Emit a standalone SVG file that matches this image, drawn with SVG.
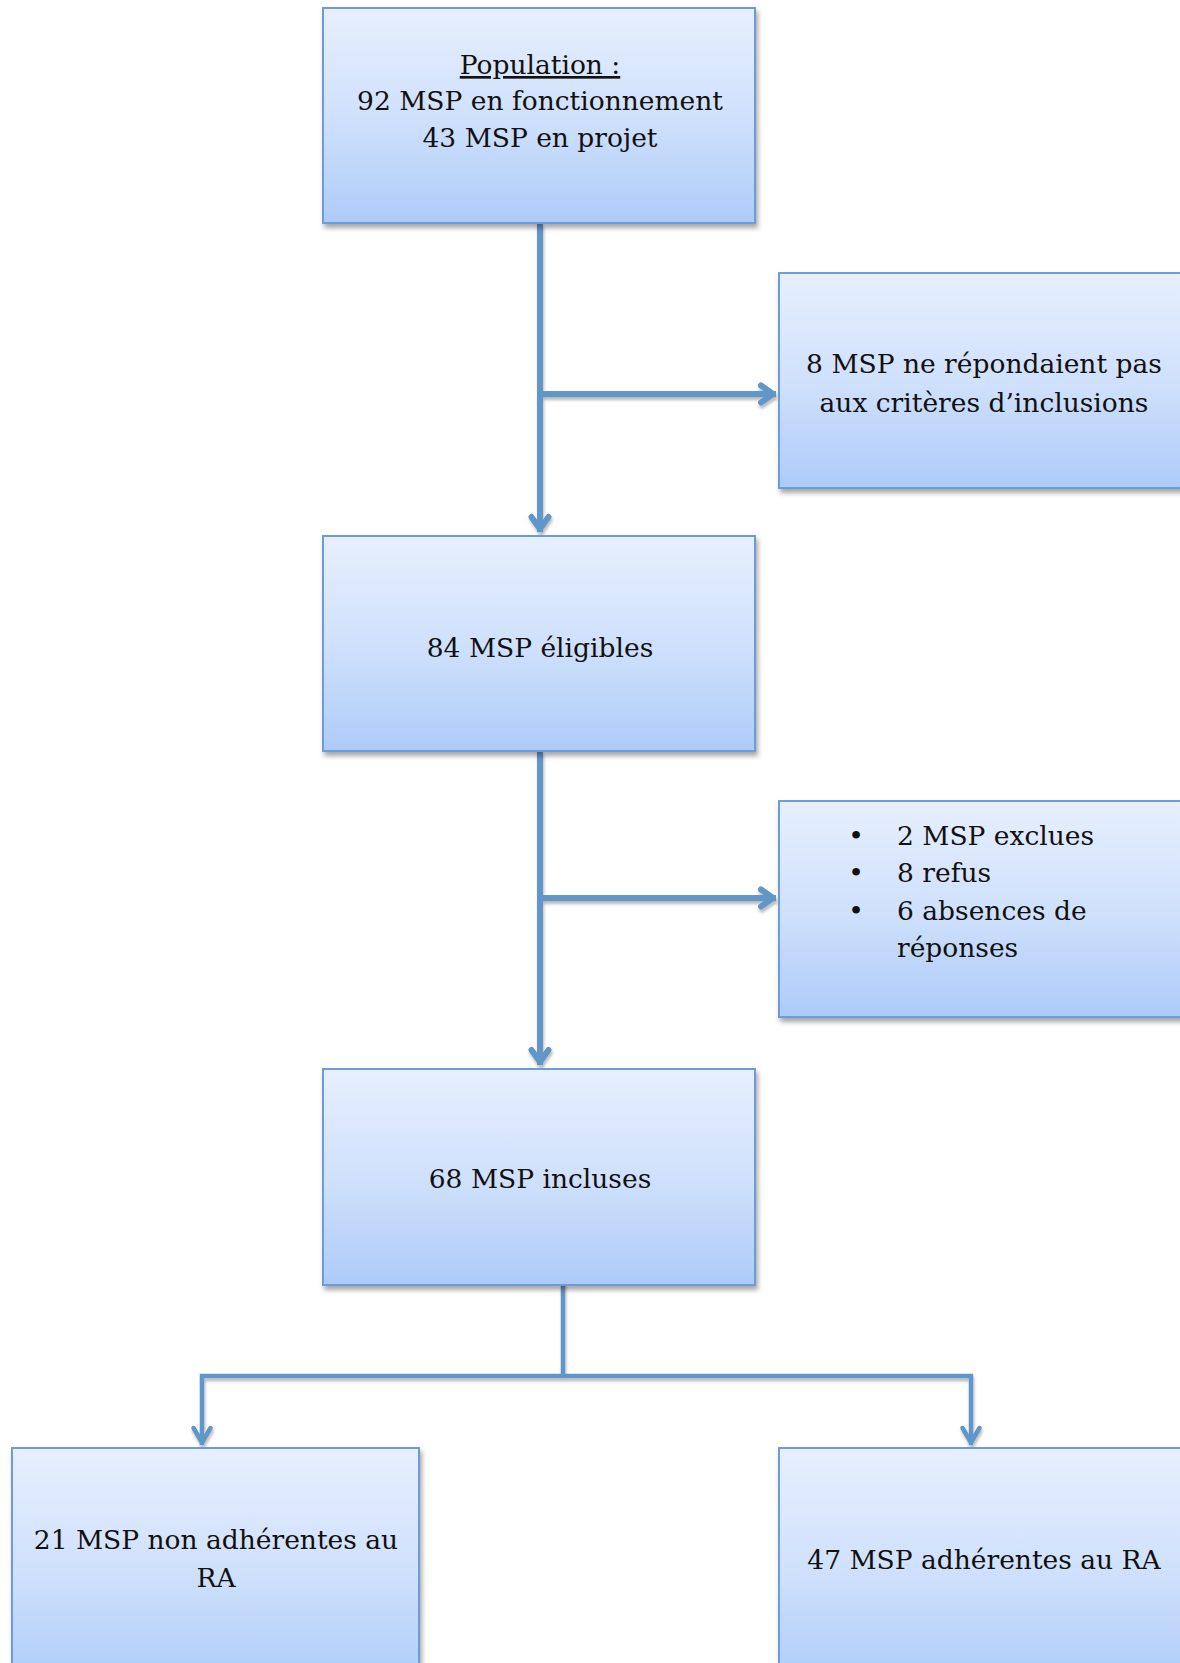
<svg xmlns="http://www.w3.org/2000/svg" width="1180" height="1663" viewBox="0 0 1180 1663">
  <defs>
    <linearGradient id="boxGrad" x1="0" y1="0" x2="0" y2="1">
      <stop offset="0" stop-color="#e6effd"/>
      <stop offset="0.5" stop-color="#d0e1fc"/>
      <stop offset="1" stop-color="#adcbf9"/>
    </linearGradient>
    <filter id="shadow" x="-10%" y="-10%" width="125%" height="130%">
      <feDropShadow dx="2" dy="4" stdDeviation="2.5" flood-color="#000" flood-opacity="0.35"/>
    </filter>
    <filter id="lineShadow" x="-20%" y="-20%" width="140%" height="140%">
      <feDropShadow dx="1" dy="3" stdDeviation="1.5" flood-color="#000" flood-opacity="0.28"/>
    </filter>
    <marker id="arrowBig" markerUnits="userSpaceOnUse" orient="auto" refX="0" refY="0" overflow="visible">
      <path d="M -15,-8.5 L -3,0 L -15,8.5" fill="none" stroke="#6096c8" stroke-width="6" stroke-linecap="round" stroke-linejoin="round"/>
    </marker>
    <marker id="arrowSmall" markerUnits="userSpaceOnUse" orient="auto" refX="0" refY="0" overflow="visible">
      <path d="M -17,-8.5 L -2.5,0 L -17,8.5" fill="none" stroke="#6096c8" stroke-width="4.5" stroke-linecap="round" stroke-linejoin="round"/>
    </marker>
  </defs>
  <style>
    .box { fill: url(#boxGrad); stroke: #6c9dd6; stroke-width: 2; filter: url(#shadow); }
    .lbl { font-family: "DejaVu Serif", "Liberation Serif", serif; font-size: 26.5px; fill: #111; }
    .c { text-anchor: middle; }
    .conn { fill: none; stroke: #6096c8; stroke-linecap: butt; stroke-linejoin: miter; }
    .thick { stroke-width: 6; }
    .thin { stroke-width: 4.5; }
  </style>

  <rect width="1180" height="1663" fill="#ffffff"/>

  <g id="connectors" filter="url(#lineShadow)">
    <line class="conn thick" x1="540" y1="223" x2="540" y2="532" marker-end="url(#arrowBig)"/>
    <line class="conn thick" x1="537" y1="394" x2="776" y2="394" marker-end="url(#arrowBig)"/>
    <line class="conn thick" x1="540" y1="751" x2="540" y2="1065" marker-end="url(#arrowBig)"/>
    <line class="conn thick" x1="537" y1="898" x2="776" y2="898" marker-end="url(#arrowBig)"/>
    <line class="conn thin" x1="563" y1="1282" x2="563" y2="1377"/>
    <path class="conn thin" d="M 563,1376 H 202 V 1445" marker-end="url(#arrowSmall)"/>
    <path class="conn thin" d="M 563,1376 H 971 V 1445" marker-end="url(#arrowSmall)"/>
  </g>

  <g id="node-population">
    <rect class="box" x="323" y="8" width="432" height="215"/>
    <text class="lbl c" x="540" y="74" text-decoration="underline">Population :</text>
    <text class="lbl c" x="540" y="110">92 MSP en fonctionnement</text>
    <text class="lbl c" x="540" y="147">43 MSP en projet</text>
  </g>

  <g id="node-non-criteres">
    <rect class="box" x="779" y="273" width="412" height="215"/>
    <text class="lbl c" x="984" y="373">8 MSP ne répondaient pas</text>
    <text class="lbl c" x="984" y="412">aux critères d’inclusions</text>
  </g>

  <g id="node-eligibles">
    <rect class="box" x="323" y="536" width="432" height="215"/>
    <text class="lbl c" x="540" y="657">84 MSP éligibles</text>
  </g>

  <g id="node-exclusions">
    <rect class="box" x="779" y="801" width="412" height="216"/>
    <text class="lbl c" x="856" y="845">•</text>
    <text class="lbl" x="897" y="845">2 MSP exclues</text>
    <text class="lbl c" x="856" y="882">•</text>
    <text class="lbl" x="897" y="882">8 refus</text>
    <text class="lbl c" x="856" y="920">•</text>
    <text class="lbl" x="897" y="920">6 absences de</text>
    <text class="lbl" x="897" y="957">réponses</text>
  </g>

  <g id="node-incluses">
    <rect class="box" x="323" y="1069" width="432" height="216"/>
    <text class="lbl c" x="540" y="1188">68 MSP incluses</text>
  </g>

  <g id="node-non-adherentes">
    <rect class="box" x="12" y="1448" width="407" height="240"/>
    <text class="lbl c" x="216" y="1549">21 MSP non adhérentes au</text>
    <text class="lbl c" x="216" y="1587">RA</text>
  </g>

  <g id="node-adherentes">
    <rect class="box" x="779" y="1448" width="412" height="240"/>
    <text class="lbl c" x="984" y="1569">47 MSP adhérentes au RA</text>
  </g>
</svg>
